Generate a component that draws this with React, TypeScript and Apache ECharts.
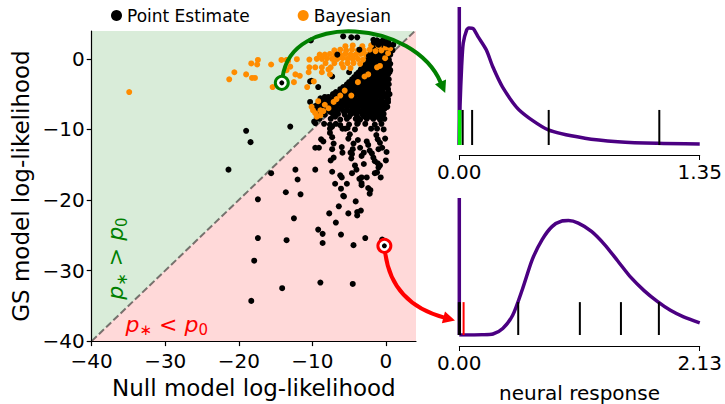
import React, { useEffect, useRef } from 'react';
import * as echarts from 'echarts';

const FONT = 'DejaVu Sans';

// ---------- main scatter ----------
const MAIN_TICKS = [-40, -30, -20, -10, 0];
const MAIN_X_RANGE = [-40, 4.1];
const MAIN_Y_RANGE = [-40, 3.95];

const REGION_ABOVE = [[-40, -40], [-40, 3.95], [3.95, 3.95]];
const REGION_BELOW = [[-40, -40], [4.1, -40], [4.1, 3.95], [3.95, 3.95]];
const DIAGONAL = [[-40, -40], [4.1, 4.1]];

const POINT_ESTIMATE_DENSE = [
  [-1.2, 2.6], [-0.4, 2.6], [0.3, 2.5],
  [-1.8, 2.0], [-1.0, 2.0], [-0.3, 1.9], [0.4, 2.0], [1.0, 2.0],
  [-2.0, 1.3], [-1.3, 1.3], [-0.6, 1.2], [0.2, 1.3], [0.9, 1.2],
  [-2.2, 0.6], [-1.5, 0.6], [-0.8, 0.5], [-0.1, 0.6], [0.6, 0.6],
  [-2.5, -0.1], [-1.8, -0.1], [-1.1, -0.2], [-0.4, -0.1], [0.4, -0.1],
  [-2.8, -0.8], [-2.1, -0.8], [-1.4, -0.8], [-0.7, -0.9], [0.0, -0.8], [0.6, -0.7],
  [-3.4, -1.5], [-2.7, -1.5], [-2.0, -1.5], [-1.3, -1.6], [-0.6, -1.5], [0.1, -1.5], [0.6, -1.6],
  [-4.0, -2.2], [-3.3, -2.2], [-2.6, -2.3], [-1.9, -2.2], [-1.2, -2.2], [-0.5, -2.2], [0.3, -2.2],
  [-4.6, -2.9], [-3.9, -2.9], [-3.2, -3.0], [-2.5, -2.9], [-1.8, -2.9], [-1.1, -2.9], [-0.4, -3.0], [0.4, -2.9],
  [-5.3, -3.6], [-4.6, -3.6], [-3.9, -3.7], [-3.2, -3.6], [-2.5, -3.6], [-1.8, -3.6], [-1.1, -3.7], [-0.4, -3.6], [0.4, -3.6],
  [-6.2, -4.3], [-5.5, -4.3], [-4.8, -4.4], [-4.1, -4.3], [-3.4, -4.3], [-2.7, -4.3], [-2.0, -4.4], [-1.3, -4.3], [-0.6, -4.3], [0.3, -4.3],
  [-7.2, -5.0], [-6.5, -5.0], [-5.8, -5.1], [-5.1, -5.0], [-4.4, -5.0], [-3.7, -5.0], [-3.0, -5.1], [-2.3, -5.0], [-1.6, -5.0], [-0.9, -5.0], [-0.2, -5.1], [0.5, -5.0],
  [-8.3, -5.7], [-7.6, -5.7], [-6.9, -5.8], [-6.2, -5.7], [-5.5, -5.7], [-4.8, -5.7], [-4.1, -5.8], [-3.4, -5.7], [-2.7, -5.7], [-2.0, -5.7], [-1.3, -5.8], [-0.6, -5.7], [0.3, -5.7],
  [-9.2, -6.4], [-8.5, -6.4], [-7.8, -6.5], [-7.1, -6.4], [-6.4, -6.4], [-5.7, -6.4], [-5.0, -6.5], [-4.3, -6.4], [-3.6, -6.4], [-2.9, -6.4], [-2.2, -6.5], [-1.5, -6.4], [-0.8, -6.4], [-0.1, -6.4],
  [-9.5, -7.1], [-8.8, -7.1], [-8.0, -7.2], [-7.0, -7.1], [-6.1, -7.1], [-5.3, -7.2], [-4.5, -7.1], [-3.8, -7.1], [-3.0, -7.2], [-2.3, -7.1], [-1.6, -7.1], [-0.9, -7.2], [-0.2, -7.1],
  [-9.3, -7.8], [-8.3, -7.9], [-7.2, -7.8], [-6.5, -7.8], [-5.6, -7.9], [-4.7, -7.8], [-4.0, -7.8], [-3.2, -7.9], [-2.4, -7.8], [-1.8, -7.8], [-1.0, -7.9], [-0.3, -7.8],
  [-9.0, -8.5], [-7.5, -8.5], [-6.2, -8.6], [-5.3, -8.5], [-4.1, -8.5], [-3.5, -8.6], [-2.6, -8.5], [-1.7, -8.5], [-0.8, -8.6], [-0.2, -8.5],
  [-8.4, -9.2], [-6.8, -9.2], [-5.0, -9.3], [-3.9, -9.2], [-2.8, -9.2], [-1.5, -9.3], [-0.6, -9.2],
  [-7.6, -9.9], [-5.5, -9.9], [-4.2, -10.0], [-2.0, -9.9], [-1.2, -9.9], [-0.3, -10.0],
  [-1.6, 2.3], [-0.7, 2.3], [0.0, 2.2], [-1.7, 1.6], [-0.9, 1.6], [-0.2, 1.6], [0.6, 1.6],
  [-1.9, 0.9], [-1.1, 0.9], [-0.4, 0.9], [0.3, 0.9], [-2.1, 0.2], [-1.4, 0.2], [-0.7, 0.2], [0.1, 0.2],
  [-2.4, -0.5], [-1.7, -0.5], [-1.0, -0.5], [-0.3, -0.5], [0.4, -0.4],
  [-3.0, -1.2], [-2.3, -1.2], [-1.6, -1.2], [-0.9, -1.2], [-0.2, -1.2], [0.4, -1.2],
  [-3.7, -1.9], [-3.0, -1.9], [-2.3, -1.9], [-1.6, -1.9], [-0.9, -1.9], [-0.2, -1.9], [0.5, -1.9],
  [-4.3, -2.6], [-3.6, -2.6], [-2.9, -2.6], [-2.2, -2.6], [-1.5, -2.6], [-0.8, -2.6], [0.0, -2.6],
  [-5.0, -3.3], [-4.3, -3.3], [-3.6, -3.3], [-2.9, -3.3], [-2.2, -3.3], [-1.5, -3.3], [-0.8, -3.3], [0.0, -3.3],
  [-5.8, -4.0], [-5.0, -4.0], [-4.3, -4.0], [-3.6, -4.0], [-2.9, -4.0], [-2.2, -4.0], [-1.5, -4.0], [-0.8, -4.0], [-0.1, -4.0],
  [-6.8, -4.7], [-6.0, -4.7], [-5.3, -4.7], [-4.6, -4.7], [-3.9, -4.7], [-3.2, -4.7], [-2.5, -4.7], [-1.8, -4.7], [-1.1, -4.7], [-0.4, -4.7], [0.3, -4.7],
  [-7.8, -5.4], [-7.0, -5.4], [-6.3, -5.4], [-5.6, -5.4], [-4.9, -5.4], [-4.2, -5.4], [-3.5, -5.4], [-2.8, -5.4], [-2.1, -5.4], [-1.4, -5.4], [-0.7, -5.4], [0.0, -5.4],
  [-8.8, -6.1], [-8.0, -6.1], [-7.3, -6.1], [-6.6, -6.1], [-5.9, -6.1], [-5.2, -6.1], [-4.5, -6.1], [-3.8, -6.1], [-3.1, -6.1], [-2.4, -6.1], [-1.7, -6.1], [-1.0, -6.1], [-0.3, -6.1], [0.3, -6.1],
  [-9.0, -6.8], [-8.2, -6.8], [-7.5, -6.8], [-6.7, -6.8], [-5.9, -6.8], [-5.2, -6.8], [-4.6, -6.8], [-3.9, -6.8], [-3.2, -6.8], [-2.5, -6.8], [-1.8, -6.8], [-1.1, -6.8], [-0.4, -6.8], [0.2, -6.8],
  [-8.7, -7.5], [-7.6, -7.5], [-6.6, -7.5], [-5.7, -7.5], [-4.9, -7.5], [-4.1, -7.5], [-3.4, -7.5], [-2.7, -7.5], [-2.0, -7.5], [-1.3, -7.5], [-0.6, -7.5],
  [-6.9, -8.2], [-5.0, -8.2], [-3.9, -8.2], [-2.9, -8.2], [-2.1, -8.2], [-1.3, -8.2], [-0.5, -8.2],
];

const POINT_ESTIMATE_SPARSE = [
  [-21.4, -15.7], [-19.0, -10.2], [-18.4, -11.8], [-13.0, -9.6], [-10.3, -3.2], [-9.2, -4.0],
  [-7.3, -2.5], [-5.8, 3.2], [-4.7, 3.05], [-3.9, 3.05], [-1.7, 2.7], [-0.8, 2.4], [0.3, 2.4],
  [-10.1, -3.1], [-5.0, -1.9], [-10.3, -6.1], [-9.6, -6.7], [-8.9, -5.6], [-8.3, -5.4], [-8.9, -7.2],
  [-9.6, -9.1], [-9.4, -8.4], [-9.75, -8.9], [-7.6, -9.3], [-7.3, -9.6], [-6.2, -9.4], [-5.9, -9.9],
  [-7.6, -10.5], [-7.3, -11.1], [-8.8, -11.4], [-8.5, -11.7], [-7.1, -12.0], [-9.6, -12.6], [-9.1, -12.6],
  [-7.3, -12.8], [-6.0, -12.5], [-5.9, -13.3], [-5.1, -11.3], [-4.9, -10.7], [-5.2, -9.8],
  [-4.4, -12.0], [-4.8, -13.3], [-4.5, -12.8], [-4.7, -14.1], [-4.6, -13.5], [-3.8, -11.5], [-3.8, -9.1],
  [-2.6, -11.7], [-2.4, -12.2], [-3.0, -13.3], [-2.2, -13.0], [-1.9, -13.4], [-3.5, -12.6], [-3.3, -13.75],
  [-3.0, -14.9], [-1.3, -10.8], [-1.1, -11.4], [-0.8, -11.9], [-0.5, -12.6], [-1.0, -12.8],
  [-0.1, -11.3], [0.1, -13.2], [0.0, -14.4], [-1.7, -14.0], [-1.5, -14.5], [-1.1, -14.8], [-1.0, -15.4],
  [-0.8, -15.1], [-7.1, -14.0], [-7.5, -14.4], [-6.0, -16.8], [-6.2, -16.5], [-6.1, -18.4], [-5.8, -19.4],
  [-5.3, -17.7], [-7.3, -16.0], [-6.9, -17.7], [-4.2, -15.1], [-4.0, -15.7], [-4.6, -16.2],
  [-3.3, -16.8], [-3.6, -17.0], [-3.3, -17.9], [-2.6, -16.8], [-2.1, -18.6], [-2.2, -19.1], [-2.4, -18.3],
  [-1.5, -16.2], [-1.2, -16.1], [-0.7, -16.8], [-12.3, -15.7], [-9.6, -15.7], [-12.0, -17.1],
  [-11.6, -19.2], [-15.6, -16.2], [-17.4, -19.9], [-13.6, -18.9], [-12.5, -22.6], [-17.4, -25.4],
  [-13.5, -25.7], [-17.9, -28.6], [-14.1, -32.5], [-18.3, -34.3], [-8.9, -31.7], [-4.5, -31.9],
  [-9.2, -24.2], [-8.6, -24.8], [-8.6, -26.1], [-6.1, -24.9], [-4.4, -26.4], [-2.8, -25.4], [-0.5, -25.6],
  [-7.7, -21.9], [-6.8, -23.2], [-6.4, -20.9], [-5.7, -19.5], [-5.1, -21.9], [-4.1, -20.2],
  [-3.9, -22.2], [-3.9, -21.7], [-3.4, -21.5], [-3.3, -17.6],
];

const POINT_ESTIMATE_TOP = [
  [-10.2, 2.6], [-6.6, 0.6], [-3.6, 1.3], [-2.3, 0.4], [-1.2, 2.6], [-0.4, 2.6],
  [0.3, 2.5], [-1.0, 2.0], [0.4, 2.0], [1.0, 2.0], [-1.6, 2.3], [-0.7, 2.3], [0.0, 2.2],
];

const BAYESIAN = [
  [-34.9, -4.7], [-21.3, -2.9], [-20.6, -1.9], [-19.0, -2.2], [-18.3, -0.65], [-17.4, -0.15],
  [-17.5, -0.8], [-18.2, -2.7], [-17.8, -2.7], [-15.6, -0.8], [-15.4, -4.0], [-14.2, -0.15],
  [-13.5, -0.15], [-13.3, -0.3], [-13.5, -1.6], [-13.0, -1.1], [-12.1, -0.05], [-12.3, -2.2],
  [-11.7, -2.4], [-12.5, -3.3], [-10.7, -4.0], [-10.5, -1.9], [-10.4, -0.1], [-10.4, -1.2],
  [-9.6, -1.2], [-8.7, -1.2], [-8.7, -1.9], [-9.8, -3.2], [-7.8, -1.5], [-7.6, -2.2],
  [-5.5, 1.8], [-4.5, 1.9], [-3.2, 1.8], [-2.0, 1.9], [-1.0, 1.8], [0.0, 1.6], [0.6, 1.5],
  [-7.0, 1.2], [-6.2, 1.3], [-5.4, 1.2], [-4.6, 1.3], [-3.8, 1.2], [-3.0, 1.2], [-2.2, 1.3], [-1.4, 1.1], [-0.6, 1.2],
  [-9.0, 0.6], [-8.3, 0.6], [-7.6, 0.7], [-6.9, 0.6], [-6.2, 0.6], [-5.5, 0.7], [-4.8, 0.6], [-4.1, 0.6], [-3.4, 0.7], [-2.7, 0.6],
  [-9.4, 0.0], [-8.7, 0.0], [-8.0, 0.1], [-7.3, 0.0], [-6.6, 0.0], [-5.9, 0.1], [-5.2, 0.0], [-4.5, 0.0], [-3.8, 0.0], [-3.1, -0.1],
  [-8.2, -0.6], [-7.0, -0.6], [-6.0, -0.7], [-5.2, -0.6], [-4.4, -0.6], [-3.5, -0.7],
  [-7.5, -1.2], [-5.8, -1.2], [-4.8, -1.3],
  [-10.1, -6.8], [-9.6, -7.7], [-9.4, -8.2], [-8.9, -7.3], [-8.3, -6.5], [-7.8, -7.0], [-7.1, -6.1],
  [-6.7, -5.7], [-6.2, -5.2], [-9.2, -6.0], [-8.5, -7.4], [-9.9, -7.3], [-8.9, -8.0],
  [-5.6, -4.5], [-3.8, -3.3], [-2.4, -2.2], [-0.8, -1.0], [-0.1, 0.1], [0.3, 0.8],
  [-4.7, -5.2], [-2.9, -2.5], [-1.2, -1.2],
];

const HIGHLIGHT_GREEN = [[-14.15, -3.4]];
const HIGHLIGHT_RED = [[-0.2, -26.5]];

const TEXT_GREEN_AT = [-36.7, -28.3];
const TEXT_RED_AT = [-29.8, -37.6];

// ---------- right panels ----------
const TOP_X_MAX = 1.35;
const TOP_SPIKE = [[0, 0], [0, 1]];
const TOP_CURVE = [
  [0, 0], [0.004, 0.28], [0.013, 0.567], [0.022, 0.737], [0.041, 0.833], [0.054, 0.848],
  [0.077, 0.845], [0.105, 0.785], [0.152, 0.688], [0.188, 0.567], [0.243, 0.42], [0.336, 0.254],
  [0.5, 0.109], [0.705, 0.049], [0.89, 0.024], [1.11, 0.012], [1.35, 0.008],
];
const TOP_RUG_BLACK = [0.019, 0.072, 0.502, 1.123];
const TOP_RUG_GREEN = [0.002];
const TOP_RUG_HEIGHT = 0.254;
const GREEN_ARROW_TIP = [-0.079, 0.377];

const BOTTOM_X_MAX = 2.13;
const BOTTOM_SPIKE = [[0, 0], [0, 1]];
const BOTTOM_CURVE = [
  [0, 0], [0.1, 0], [0.2, 0.001], [0.298, 0.007], [0.385, 0.048], [0.473, 0.144], [0.56, 0.336],
  [0.647, 0.552], [0.734, 0.696], [0.821, 0.791], [0.909, 0.832], [0.967, 0.835], [1.054, 0.816],
  [1.171, 0.756], [1.287, 0.66], [1.404, 0.54], [1.52, 0.42], [1.637, 0.324], [1.754, 0.245],
  [1.87, 0.18], [1.987, 0.132], [2.13, 0.089],
];
const BOTTOM_RUG_BLACK = [-0.004, 0.006, 0.522, 1.068, 1.432, 1.768];
const BOTTOM_RUG_RED = [0.038];
const BOTTOM_RUG_HEIGHT = 0.24;
const RED_ARROW_TIP = [-0.038, 0.106];

const PURPLE = '#4b0082';
const GREEN = '#008000';
const RED = '#ff0000';
const ORANGE = '#ff8c00';

const minus = (v: number) => (v < 0 ? '\u2212' + Math.abs(v) : String(v));

function rugSeries(grid: number, xs: number[], h: number, color: string, width: number, z: number) {
  return {
    type: 'custom',
    xAxisIndex: grid,
    yAxisIndex: grid,
    silent: true,
    z,
    data: xs.map((x) => [x, 0]),
    renderItem: (_p: any, api: any) => {
      const x = api.value(0);
      const a = api.coord([x, 0]);
      const b = api.coord([x, h]);
      return {
        type: 'line',
        shape: { x1: a[0], y1: a[1], x2: b[0], y2: b[1] },
        style: { stroke: color, lineWidth: width },
      };
    },
  };
}

function regionSeries(points: number[][], fill: string) {
  return {
    type: 'custom',
    xAxisIndex: 0,
    yAxisIndex: 0,
    silent: true,
    z: 0,
    data: [[points[0][0], points[0][1]]],
    renderItem: (_p: any, api: any) => ({
      type: 'polygon',
      shape: { points: points.map((pt) => api.coord(pt)) },
      style: { fill },
    }),
  };
}

function smallAxis(grid: number, max: number, offset: number, extra: any = {}) {
  return {
    gridIndex: grid,
    type: 'value',
    min: 0,
    max,
    offset,
    axisLine: { show: true, onZero: false, lineStyle: { color: '#000', width: 1 } },
    axisTick: { show: true, length: 5, customValues: [0, max], lineStyle: { color: '#000', width: 1 } },
    axisLabel: {
      customValues: [0, max],
      formatter: (v: number) => v.toFixed(2),
      fontSize: 20,
      color: '#000',
      fontFamily: FONT,
      margin: 7,
    },
    splitLine: { show: false },
    ...extra,
  };
}

function scatter(name: string, data: number[][], color: string, z: number, size = 5.5, extra: any = {}) {
  return {
    type: 'scatter',
    name,
    xAxisIndex: 0,
    yAxisIndex: 0,
    data,
    symbolSize: size,
    itemStyle: { color, opacity: 1 },
    emphasis: { disabled: true },
    z,
    ...extra,
  };
}

function lineSeries(grid: number, data: number[][], smooth: any, z: number) {
  return {
    type: 'line',
    xAxisIndex: grid,
    yAxisIndex: grid,
    data,
    symbol: 'none',
    smooth,
    lineStyle: { color: PURPLE, width: 3.5 },
    emphasis: { disabled: true },
    z,
  };
}

export default function App() {
  const ref = useRef<HTMLDivElement>(null);

  useEffect(() => {
    document.body.style.margin = '0';
    const chart = echarts.init(ref.current!, null, { renderer: 'svg' });
    const option: any = {
      animation: false,
      textStyle: { fontFamily: FONT },
      legend: {
        data: ['Point Estimate', 'Bayesian'],
        left: 106,
        top: 2,
        icon: 'circle',
        itemWidth: 11,
        itemHeight: 11,
        itemGap: 48,
        selectedMode: false,
        textStyle: { fontSize: 17, color: '#000', fontFamily: FONT },
      },
      grid: [
        { left: 91.7, top: 31, width: 324.3, height: 316.3 },
        { left: 459.3, top: 7, width: 244, height: 138 },
        { left: 459.3, top: 198, width: 243.4, height: 138.7 },
      ],
      xAxis: [
        {
          gridIndex: 0,
          type: 'value',
          min: MAIN_X_RANGE[0],
          max: MAIN_X_RANGE[1],
          name: 'Null model log-likelihood',
          nameLocation: 'middle',
          nameGap: 34,
          nameTextStyle: { fontSize: 23, color: '#000', fontFamily: FONT },
          axisLine: { show: true, onZero: false, lineStyle: { color: '#000', width: 1.2 } },
          axisTick: { show: true, length: 5, customValues: MAIN_TICKS, lineStyle: { color: '#000', width: 1.2 } },
          axisLabel: { customValues: MAIN_TICKS, formatter: minus, fontSize: 20, color: '#000', fontFamily: FONT, margin: 10 },
          splitLine: { show: false },
        },
        smallAxis(1, TOP_X_MAX, 10),
        smallAxis(2, BOTTOM_X_MAX, 11, {
          name: 'neural response',
          nameLocation: 'middle',
          nameGap: 37,
          nameTextStyle: { fontSize: 20, color: '#000', fontFamily: FONT },
        }),
      ],
      yAxis: [
        {
          gridIndex: 0,
          type: 'value',
          min: MAIN_Y_RANGE[0],
          max: MAIN_Y_RANGE[1],
          name: 'GS model log-likelihood',
          nameLocation: 'middle',
          nameGap: 59,
          nameTextStyle: { fontSize: 23, color: '#000', fontFamily: FONT },
          axisLine: { show: true, onZero: false, lineStyle: { color: '#000', width: 1.2 } },
          axisTick: { show: true, length: 5, customValues: MAIN_TICKS, lineStyle: { color: '#000', width: 1.2 } },
          axisLabel: { customValues: MAIN_TICKS, formatter: minus, fontSize: 20, color: '#000', fontFamily: FONT, margin: 7 },
          splitLine: { show: false },
        },
        { gridIndex: 1, type: 'value', min: 0, max: 1, show: false },
        { gridIndex: 2, type: 'value', min: 0, max: 1, show: false },
      ],
      series: [
        regionSeries(REGION_ABOVE, 'rgba(0,128,0,0.15)'),
        regionSeries(REGION_BELOW, 'rgba(255,0,0,0.15)'),
        {
          type: 'line',
          xAxisIndex: 0,
          yAxisIndex: 0,
          data: DIAGONAL,
          symbol: 'none',
          silent: true,
          lineStyle: { color: 'rgba(0,0,0,0.5)', width: 2, type: [7, 3] },
          z: 1,
        },
        scatter('Point Estimate', [...POINT_ESTIMATE_DENSE, ...POINT_ESTIMATE_SPARSE], '#000', 3, 6),
        scatter('Bayesian', BAYESIAN, ORANGE, 4, 6),
        scatter('Point Estimate', POINT_ESTIMATE_TOP, '#000', 5, 6),
        scatter('highlight-green-ring', HIGHLIGHT_GREEN, '#fff', 6, 13, {
          itemStyle: { color: '#fff', borderColor: GREEN, borderWidth: 3, opacity: 1 },
        }),
        scatter('highlight-green', HIGHLIGHT_GREEN, '#000', 7, 5),
        scatter('highlight-red-ring', HIGHLIGHT_RED, '#fff', 6, 13, {
          itemStyle: { color: '#fff', borderColor: RED, borderWidth: 3, opacity: 1 },
        }),
        scatter('highlight-red', HIGHLIGHT_RED, '#000', 7, 5),
        lineSeries(1, TOP_SPIKE, false, 3),
        lineSeries(1, TOP_CURVE, 0.25, 3),
        rugSeries(1, TOP_RUG_BLACK, TOP_RUG_HEIGHT, '#000', 2, 4),
        rugSeries(1, TOP_RUG_GREEN, TOP_RUG_HEIGHT, '#00ee00', 3.5, 5),
        lineSeries(2, BOTTOM_SPIKE, false, 3),
        lineSeries(2, BOTTOM_CURVE, 0.25, 3),
        rugSeries(2, BOTTOM_RUG_BLACK, BOTTOM_RUG_HEIGHT, '#000', 2, 4),
        rugSeries(2, BOTTOM_RUG_RED, BOTTOM_RUG_HEIGHT, RED, 2, 5),
      ],
    };
    chart.setOption(option);

    const toPx = (grid: number, pt: number[]) =>
      chart.convertToPixel({ gridIndex: grid } as any, pt) as number[];

    const arrow = (s0: number[], c1: number[], c2: number[], tip: number[], color: string) => {
      const dx = tip[0] - c2[0];
      const dy = tip[1] - c2[1];
      const n = Math.hypot(dx, dy);
      const ux = dx / n;
      const uy = dy / n;
      const len = 12;
      const hw = 6;
      const bx = tip[0] - ux * len;
      const by = tip[1] - uy * len;
      const sx = c1[0] - s0[0];
      const sy = c1[1] - s0[1];
      const sn = Math.hypot(sx, sy);
      const start = [s0[0] + (sx / sn) * 6, s0[1] + (sy / sn) * 6];
      return [
        {
          type: 'bezierCurve',
          z: 100,
          silent: true,
          shape: {
            x1: start[0], y1: start[1],
            cpx1: c1[0], cpy1: c1[1],
            cpx2: c2[0] - ux * (len - 1), cpy2: c2[1] - uy * (len - 1),
            x2: bx + ux, y2: by + uy,
          },
          style: { stroke: color, lineWidth: 4, fill: 'none' },
        },
        {
          type: 'polygon',
          z: 101,
          silent: true,
          shape: {
            points: [
              tip,
              [bx - uy * hw, by + ux * hw],
              [bx + uy * hw, by - ux * hw],
            ],
          },
          style: { fill: color },
        },
      ];
    };

    const gS = toPx(0, HIGHLIGHT_GREEN[0]);
    const gE = toPx(1, GREEN_ARROW_TIP);
    const rS = toPx(0, HIGHLIGHT_RED[0]);
    const rE = toPx(2, RED_ARROW_TIP);
    const gText = toPx(0, TEXT_GREEN_AT);
    const rText = toPx(0, TEXT_RED_AT);

    const richStyles = (color: string) => ({
      p: { fontSize: 22, fontStyle: 'italic', fontFamily: FONT, fill: color },
      s: { fontSize: 15, fontFamily: FONT, fill: color, padding: [12, 0, 0, 0] },
      o: { fontSize: 22, fontFamily: FONT, fill: color },
    });

    chart.setOption({
      graphic: [
        ...arrow(gS, [gS[0] + 10, gS[1] - 72], [gE[0] - 27, gE[1] - 63], gE, GREEN),
        ...arrow(rS, [rS[0] + 4.7, rS[1] + 39.7], [rE[0] - 37, rE[1] - 10], rE, RED),
        {
          type: 'text',
          x: gText[0],
          y: gText[1],
          rotation: Math.PI / 2,
          z: 50,
          silent: true,
          style: {
            text: '{p|p}{s|\u2217}{o| > }{p|p}{s|0}',
            rich: richStyles(GREEN),
            fill: GREEN,
            align: 'center',
            verticalAlign: 'middle',
          },
        },
        {
          type: 'text',
          x: rText[0],
          y: rText[1],
          z: 50,
          silent: true,
          style: {
            text: '{p|p}{s|\u2217}{o| < }{p|p}{s|0}',
            rich: richStyles(RED),
            fill: RED,
            align: 'center',
            verticalAlign: 'middle',
          },
        },
      ],
    });

    return () => chart.dispose();
  }, []);

  return <div ref={ref} style={{ width: 725, height: 404 }} />;
}
